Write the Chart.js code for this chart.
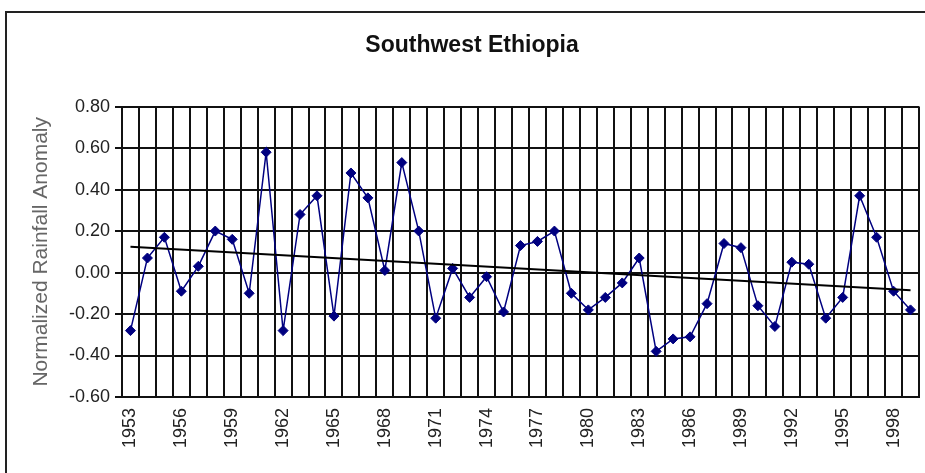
<!DOCTYPE html>
<html>
<head>
<meta charset="utf-8">
<title>Southwest Ethiopia</title>
<script src="https://cdn.jsdelivr.net/npm/chart.js@4/dist/chart.umd.min.js"></script>
<style>
  html, body { margin: 0; padding: 0; background: #fff; overflow: hidden; }
  #wrap { position: relative; width: 925px; height: 473px; }
  #frame {
    position: absolute; left: 5px; top: 11px; width: 1000px; height: 600px;
    border: 2px solid #222; box-sizing: border-box; pointer-events: none;
  }
  canvas { position: absolute; left: 0; top: 0; }
</style>
</head>
<body>
<div id="wrap">
  <canvas id="chart" width="925" height="473"></canvas>
  <div id="frame"></div>
</div>
<script>
// Annual normalized rainfall anomaly, 1953–1999
const years = [
  1953, 1954, 1955, 1956, 1957, 1958, 1959, 1960, 1961, 1962,
  1963, 1964, 1965, 1966, 1967, 1968, 1969, 1970, 1971, 1972,
  1973, 1974, 1975, 1976, 1977, 1978, 1979, 1980, 1981, 1982,
  1983, 1984, 1985, 1986, 1987, 1988, 1989, 1990, 1991, 1992,
  1993, 1994, 1995, 1996, 1997, 1998, 1999
];
const rainfallAnomaly = [
  -0.28, 0.07, 0.17, -0.09, 0.03, 0.20, 0.16, -0.10, 0.58, -0.28,
  0.28, 0.37, -0.21, 0.48, 0.36, 0.01, 0.53, 0.20, -0.22, 0.02,
  -0.12, -0.02, -0.19, 0.13, 0.15, 0.20, -0.10, -0.18, -0.12, -0.05,
  0.07, -0.38, -0.32, -0.31, -0.15, 0.14, 0.12, -0.16, -0.26, 0.05,
  0.04, -0.22, -0.12, 0.37, 0.17, -0.09, -0.18
];
// Linear trend: value at the first and at the last year
const trendEnds = [0.124, -0.085];
// Year labels written under the axis
const yearTickLabels = ['1953', '1956', '1959', '1962', '1965', '1968', '1971', '1974',
  '1977', '1980', '1983', '1986', '1989', '1992', '1995', '1998'];
const valueTicks = [-0.6, -0.4, -0.2, 0.0, 0.2, 0.4, 0.6, 0.8];

const labels = years.map(String);
const trendData = labels.map((_, i) =>
  i === 0 ? trendEnds[0] : (i === labels.length - 1 ? trendEnds[1] : null));

const FONT = "'Liberation Sans', Arial, sans-serif";

new Chart(document.getElementById('chart'), {
  type: 'line',
  data: {
    labels: labels,
    datasets: [
      {
        label: 'Trend',
        data: trendData,
        spanGaps: true,
        borderColor: '#000',
        borderWidth: 2,
        pointRadius: 0,
        fill: false,
        order: 0
      },
      {
        label: 'Rainfall anomaly',
        data: rainfallAnomaly,
        borderColor: '#000080',
        backgroundColor: '#000080',
        borderWidth: 1.5,
        tension: 0,
        pointStyle: 'rectRot',
        pointRadius: 5,
        pointBackgroundColor: '#000080',
        pointBorderColor: '#000080',
        pointBorderWidth: 1,
        fill: false,
        order: 1
      }
    ]
  },
  options: {
    responsive: false,
    animation: false,
    layout: { padding: { left: 23, right: 4, top: 0, bottom: 0 } },
    plugins: {
      legend: { display: false },
      tooltip: { enabled: false },
      title: {
        display: true,
        text: 'Southwest Ethiopia',
        color: '#111',
        font: { family: FONT, size: 23, weight: 'bold' },
        padding: { top: 32, bottom: 47 }
      }
    },
    scales: {
      x: {
        type: 'category',
        offset: true,
        grid: { offset: true, color: '#111', lineWidth: 2, drawTicks: false },
        border: { color: '#111', width: 2 },
        ticks: {
          autoSkip: false,
          maxRotation: 90,
          minRotation: 90,
          padding: 11,
          color: '#222',
          font: { family: FONT, size: 18 },
          callback: function (value, index) {
            const lab = this.getLabelForValue(value);
            return yearTickLabels.includes(lab) ? lab : '';
          }
        },
        afterFit: function (scale) {
          scale.height = 76;
          scale.paddingLeft = 0;
          scale.paddingRight = 0;
        }
      },
      y: {
        min: valueTicks[0],
        max: valueTicks[valueTicks.length - 1],
        grid: { color: '#111', lineWidth: 2, tickLength: 7 },
        border: { color: '#111', width: 2 },
        afterBuildTicks: function (scale) {
          scale.ticks = valueTicks.map(v => ({ value: v }));
        },
        ticks: {
          padding: 5,
          color: '#222',
          font: { family: FONT, size: 18 },
          callback: v => Number(v).toFixed(2)
        },
        title: {
          display: true,
          text: 'Normalized Rainfall Anomaly',
          color: '#666',
          font: { family: FONT, size: 21 },
          padding: { top: 6, bottom: 0 }
        },
        afterFit: function (scale) {
          scale.width = 99;
          scale.paddingTop = 0;
          scale.paddingBottom = 0;
        }
      }
    }
  }
});
</script>
</body>
</html>
